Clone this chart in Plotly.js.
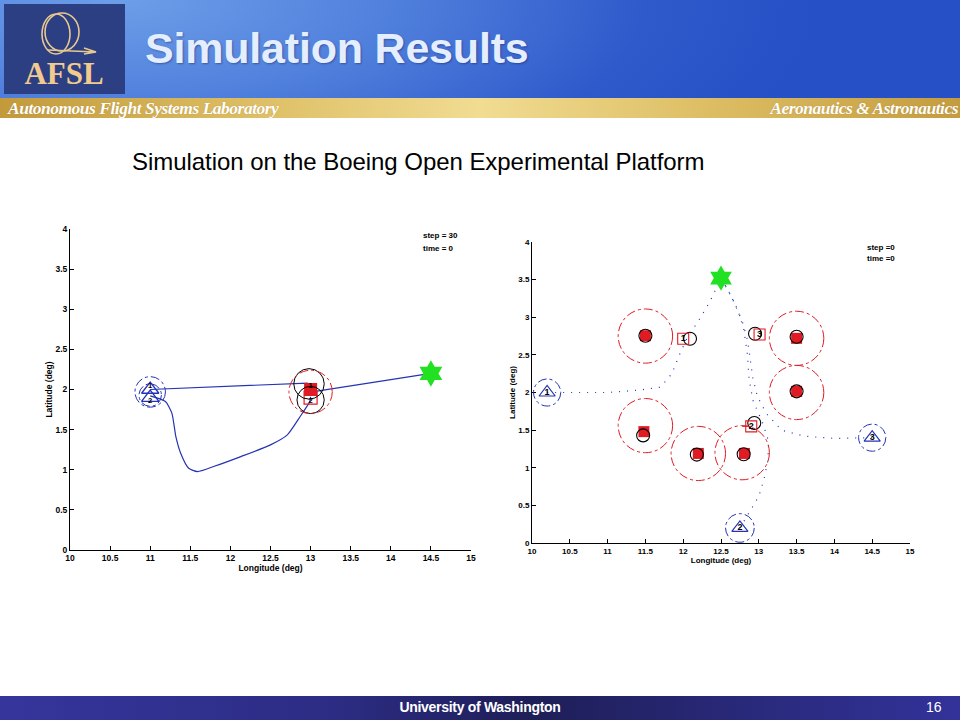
<!DOCTYPE html>
<html>
<head>
<meta charset="utf-8">
<script src="https://cdn.plot.ly/plotly-3.0.1.min.js"></script>
<style>
  html, body { margin:0; padding:0; width:960px; height:720px; overflow:hidden; background:#ffffff; font-family: Arial, "Liberation Sans", sans-serif; }
  #header { position:absolute; left:0; top:0; width:960px; height:98px;
    background: radial-gradient(ellipse 700px 260px at 120px 0px, #6d9ee8 0%, #4f7fdc 40%, #2f5acb 75%, #2550c6 100%); }
  #logo { position:absolute; left:4px; top:4px; width:121px; height:90px; background:#2b3f82; }
  #title { position:absolute; left:145px; top:24px; font-size:43px; font-weight:bold; color:#e4eeff; letter-spacing:-0.2px; text-shadow:1px 1px 2px rgba(0,0,60,0.35); }
  #goldbar { position:absolute; left:0; top:98px; width:960px; height:20px;
    background: linear-gradient(to right, #c29a3c 0%, #dcbc62 25%, #f1dc92 50%, #dcbc62 75%, #c49c40 100%); }
  .goldtext { position:absolute; top:98px; font-family:"Liberation Serif", "Times New Roman", serif; font-style:italic; font-weight:bold; font-size:17.5px; color:#ffffff; letter-spacing:-0.5px; text-shadow:0 0 1px rgba(120,80,0,0.4); }
  #subtitle { position:absolute; left:132px; top:148px; font-size:24px; color:#000; letter-spacing:-0.05px; }
  #footer { position:absolute; left:0; top:696px; width:960px; height:24px;
    background: linear-gradient(to right, #35359c 0%, #2c2c84 35%, #1e1e58 55%, #2a2a7e 80%, #32329a 100%); }
  #foottext { position:absolute; left:0; width:960px; top:699px; text-align:center; font-size:14px; font-weight:bold; color:#fff; letter-spacing:-0.3px; }
  #pagenum { position:absolute; left:926px; top:699px; font-size:14px; color:#fff; }
  #plotL { position:absolute; left:0px; top:200px; width:480px; height:380px; }
  #plotR { position:absolute; left:490px; top:220px; width:430px; height:360px; }
</style>
</head>
<body>
<div id="header"></div>
<div id="logo">
  <svg width="121" height="90" viewBox="0 0 121 90">
    <ellipse cx="52" cy="30" rx="14" ry="20" fill="none" stroke="#e8c890" stroke-width="1.6"/>
    <ellipse cx="58" cy="28" rx="17" ry="19" fill="none" stroke="#e8c890" stroke-width="1.6"/>
    <path d="M44 46 L92 48 M80 44 L92 48 L80 50" fill="none" stroke="#e8c890" stroke-width="1.5"/>
    <text x="60" y="80" text-anchor="middle" font-family="Liberation Serif, Times New Roman, serif" font-weight="bold" font-size="31" fill="#f2c98e">AFSL</text>
  </svg>
</div>
<div id="title">Simulation Results</div>
<div id="goldbar"></div>
<div class="goldtext" style="left:8px;">Autonomous Flight Systems Laboratory</div>
<div class="goldtext" style="right:2px;">Aeronautics &amp; Astronautics</div>
<div id="subtitle">Simulation on the Boeing Open Experimental Platform</div>
<div id="plotL"></div>
<div id="plotR"></div>
<div id="footer"></div>
<div id="foottext">University of Washington</div>
<div id="pagenum">16</div>
<script>
// ---------------- Left chart data (step = 30) ----------------
const L_path1_x = [11.0, 12.96, 13.0, 13.08, 14.5];
const L_path1_y = [2.0, 2.08, 2.0, 1.98, 2.2];
const L_path2_x = [11.0, 11.19, 11.27, 11.32, 11.38, 11.48, 11.59, 11.79, 12.13, 12.50, 12.71, 12.87, 12.99, 13.0];
const L_path2_y = [1.92, 1.85, 1.705, 1.414, 1.206, 1.019, 0.977, 1.04, 1.164, 1.31, 1.435, 1.663, 1.85, 1.91];
const L_uav_x = [11.0, 11.0];
const L_uav_y = [2.0, 1.9];
const L_uav_lbl = ["1", "2"];
const L_tgtFilled_x = [13.0];
const L_tgtFilled_y = [2.0];
const L_tgtOpen_x = [13.0];
const L_tgtOpen_y = [1.9];
const L_tgt_lbl = ["1", "2"];
const L_goal_x = [14.5];
const L_goal_y = [2.2];
const L_blueCirc_x = [11.0, 11.0];
const L_blueCirc_y = [1.97, 1.93];
const L_blueCirc_r = [0.19, 0.14];
const L_blackCirc_x = [12.98, 13.0];
const L_blackCirc_y = [2.07, 1.87];
const L_blackCirc_r = [0.19, 0.17];
const L_redCirc_x = [13.0];
const L_redCirc_y = [1.97];
const L_redCirc_r = [0.27];
const L_info = ["step = 30", "time = 0"];

// ---------------- Right chart data (step = 0) ----------------
const R_path1_x = [10.2, 10.6, 11.0, 11.4, 11.7, 11.85, 11.95, 12.05, 12.2, 12.35, 12.47, 12.5];
const R_path1_y = [2.0, 2.0, 2.0, 2.03, 2.07, 2.25, 2.5, 2.72, 2.95, 3.2, 3.45, 3.52];
const R_path2_x = [12.75, 12.88, 13.0, 13.07, 13.12, 13.13, 13.05, 12.92, 12.87, 12.85, 12.8, 12.72, 12.6, 12.5];
const R_path2_y = [0.2, 0.42, 0.62, 0.85, 1.1, 1.35, 1.6, 1.9, 2.2, 2.5, 2.85, 3.1, 3.35, 3.52];
const R_path3_x = [14.5, 14.0, 13.6, 13.3, 13.1, 12.98, 12.92, 12.88, 12.85, 12.78, 12.65, 12.5];
const R_path3_y = [1.4, 1.39, 1.42, 1.5, 1.72, 1.95, 2.2, 2.45, 2.7, 2.95, 3.25, 3.52];
const R_uav_x = [10.2, 12.75, 14.5];
const R_uav_y = [2.0, 0.2, 1.4];
const R_uav_lbl = ["1", "2", "3"];
const R_goal_x = [12.5];
const R_goal_y = [3.52];
const R_tgtFilled_x = [11.5, 13.5, 13.5, 11.48, 12.2, 12.81];
const R_tgtFilled_y = [2.755, 2.72, 2.015, 1.48, 1.19, 1.19];
const R_obsCirc_x = [11.5, 13.5, 13.5, 11.47, 12.18, 12.8];
const R_obsCirc_y = [2.755, 2.74, 2.015, 1.43, 1.175, 1.18];
const R_redCirc_x = [11.5, 13.5, 13.5, 11.5, 12.2, 12.78];
const R_redCirc_y = [2.75, 2.72, 2.0, 1.56, 1.19, 1.2];
const R_redCirc_r = [0.36, 0.36, 0.36, 0.36, 0.36, 0.36];
const R_blueCirc_x = [10.2, 12.75, 14.5];
const R_blueCirc_y = [2.0, 0.2, 1.4];
const R_blueCirc_r = [0.18, 0.19, 0.18];
const R_wpSq_x = [12.0, 13.01, 12.9];
const R_wpSq_y = [2.715, 2.77, 1.55];
const R_wpCirc_x = [12.09, 12.95, 12.94];
const R_wpCirc_y = [2.715, 2.78, 1.595];
const R_wpLbl = ["1", "3", "2"];
const R_info = ["step =0", "time =0"];

const BLUE = "#2433b4";
const RED = "#e01b24";
const GREEN = "#22e022";

function circleShapes(xs, ys, rs, color, dash, width) {
  return xs.map((cx, i) => ({
    type: "circle", xref: "x", yref: "y",
    x0: cx - rs[i], x1: cx + rs[i], y0: ys[i] - rs[i], y1: ys[i] + rs[i],
    line: {color: color, width: width, dash: dash}
  }));
}

function axisCfg(titleText, fs, tfs) {
  return {
    range: null, dtick: 0.5, tick0: 0, ticks: "inside", ticklen: 4, tickwidth: 1, tickcolor: "#000",
    showline: true, linecolor: "#000", linewidth: 1, mirror: false, showgrid: false, zeroline: false,
    tickfont: {family: "Arial, Liberation Sans, sans-serif", size: fs, color: "#000", weight: "bold"},
    title: {text: titleText, font: {family: "Arial, Liberation Sans, sans-serif", size: tfs, color: "#000", weight: "bold"}, standoff: 1},
    fixedrange: true
  };
}

const labelFont = {family: "Arial", size: 7.5, color: "#000", weight: "bold"};
const infoFont = {family: "Arial", size: 8, color: "#000", weight: "bold"};

// ---------- Left ----------
const leftTraces = [
  {x: L_path1_x, y: L_path1_y, mode: "lines", line: {color: BLUE, width: 1.2}, hoverinfo: "skip"},
  {x: L_path2_x, y: L_path2_y, mode: "lines", line: {color: BLUE, width: 1.2, shape: "spline", smoothing: 0.6}, hoverinfo: "skip"},
  {x: L_uav_x, y: L_uav_y, mode: "markers", marker: {symbol: "triangle-up-open", size: 15, color: BLUE, line: {width: 1.3, color: BLUE}}},
  {x: L_tgtFilled_x, y: L_tgtFilled_y, mode: "markers", marker: {symbol: "square", size: 13, color: RED}},
  {x: L_tgtOpen_x, y: L_tgtOpen_y, mode: "markers", marker: {symbol: "square-open", size: 13, color: RED, line: {width: 1.2, color: RED}}},
  {x: L_uav_x, y: L_uav_y, mode: "text", text: L_uav_lbl, textposition: ["top center", "bottom center"], textfont: labelFont},
  {x: L_tgtFilled_x.concat(L_tgtOpen_x), y: L_tgtFilled_y.concat(L_tgtOpen_y), mode: "text", text: L_tgt_lbl,
    textposition: ["top center", "bottom center"], textfont: labelFont},
  {x: L_goal_x, y: L_goal_y, mode: "markers", marker: {symbol: "hexagram", size: 20, color: GREEN, line: {width: 0}}}
];
const leftShapes = [].concat(
  circleShapes(L_blueCirc_x, L_blueCirc_y, L_blueCirc_r, BLUE, "dashdot", 1),
  circleShapes(L_blackCirc_x, L_blackCirc_y, L_blackCirc_r, "#000", "solid", 1),
  circleShapes(L_redCirc_x, L_redCirc_y, L_redCirc_r, RED, "dashdot", 1)
);
const lx = axisCfg("Longitude (deg)", 8.5, 8.5); lx.range = [10, 15];
const ly = axisCfg("Latitude (deg)", 8.5, 8.5); ly.range = [0, 4];
const leftLayout = {
  width: 480, height: 380, margin: {l: 70, r: 9, t: 29, b: 30},
  paper_bgcolor: "rgba(0,0,0,0)", plot_bgcolor: "#fff", showlegend: false,
  xaxis: lx, yaxis: ly, shapes: leftShapes,
  annotations: [
    {x: 14.38, y: 3.92, xref: "x", yref: "y", text: L_info[0], showarrow: false, xanchor: "left", font: infoFont},
    {x: 14.38, y: 3.76, xref: "x", yref: "y", text: L_info[1], showarrow: false, xanchor: "left", font: infoFont}
  ]
};
Plotly.newPlot("plotL", leftTraces, leftLayout, {staticPlot: true});

// ---------- Right ----------
const dotLine = {color: BLUE, width: 1.2, dash: "1px,7px"};
const rightTraces = [
  {x: R_path1_x, y: R_path1_y, mode: "lines", line: dotLine},
  {x: R_path2_x, y: R_path2_y, mode: "lines", line: dotLine},
  {x: R_path3_x, y: R_path3_y, mode: "lines", line: dotLine},
  {x: R_tgtFilled_x, y: R_tgtFilled_y, mode: "markers", marker: {symbol: "square", size: 11, color: RED}},
  {x: R_obsCirc_x, y: R_obsCirc_y, mode: "markers", marker: {symbol: "circle-open", size: 13, color: "#000", line: {width: 1.1, color: "#000"}}},
  {x: R_wpCirc_x, y: R_wpCirc_y, mode: "markers", marker: {symbol: "circle-open", size: 13, color: "#000", line: {width: 1.1, color: "#000"}}},
  {x: R_wpSq_x, y: R_wpSq_y, mode: "markers+text", text: R_wpLbl, textposition: "middle center",
    textfont: {family: "Arial", size: 9, color: "#000", weight: "bold"},
    marker: {symbol: "square-open", size: 11, color: RED, line: {width: 1.1, color: RED}}},
  {x: [12.78, 12.9], y: [1.55, 1.55], mode: "lines", line: {color: RED, width: 1}},
  {x: R_uav_x, y: R_uav_y, mode: "markers+text", text: R_uav_lbl, textposition: "middle center",
    textfont: {family: "Arial", size: 9, color: "#000", weight: "bold"},
    marker: {symbol: "triangle-up-open", size: 14, color: BLUE, line: {width: 1.2, color: BLUE}}},
  {x: R_goal_x, y: R_goal_y, mode: "markers", marker: {symbol: "hexagram", size: 19, color: GREEN, line: {width: 0}}}
];
const rightShapes = [].concat(
  circleShapes(R_redCirc_x, R_redCirc_y, R_redCirc_r, RED, "dashdot", 1),
  circleShapes(R_blueCirc_x, R_blueCirc_y, R_blueCirc_r, BLUE, "dashdot", 1)
);
const rx = axisCfg("Longitude (deg)", 8, 8); rx.range = [10, 15];
const ry = axisCfg("Latitude (deg)", 8, 8); ry.range = [0, 4];
const rightLayout = {
  width: 430, height: 360, margin: {l: 42, r: 10, t: 22, b: 37},
  paper_bgcolor: "rgba(0,0,0,0)", plot_bgcolor: "#fff", showlegend: false,
  xaxis: rx, yaxis: ry, shapes: rightShapes,
  annotations: [
    {x: 14.4, y: 3.93, xref: "x", yref: "y", text: R_info[0], showarrow: false, xanchor: "left", font: infoFont},
    {x: 14.4, y: 3.78, xref: "x", yref: "y", text: R_info[1], showarrow: false, xanchor: "left", font: infoFont}
  ]
};
Plotly.newPlot("plotR", rightTraces, rightLayout, {staticPlot: true});
</script>
</body>
</html>
